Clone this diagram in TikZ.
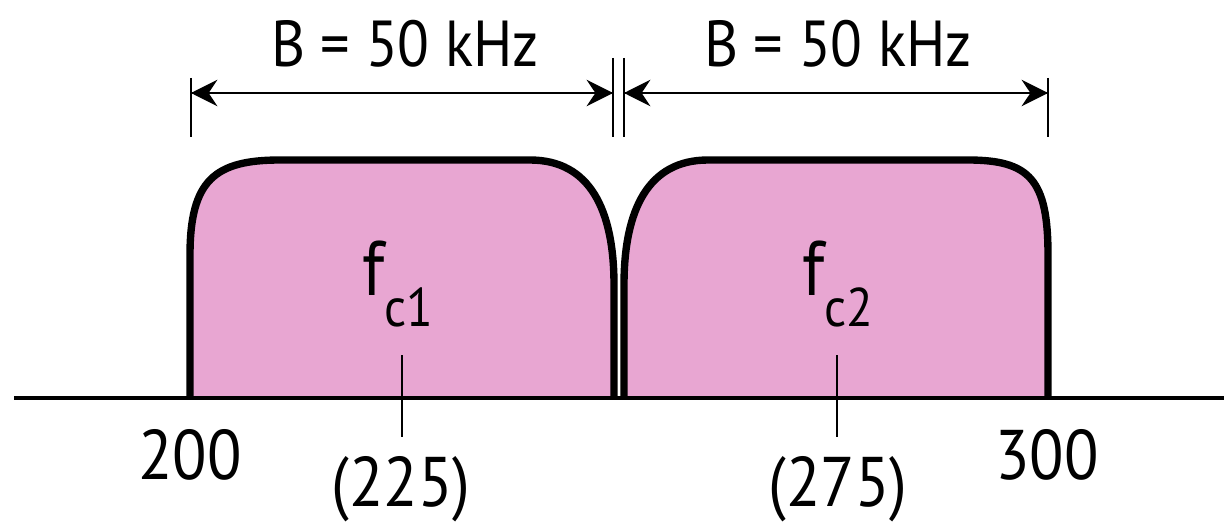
\documentclass[tikz,border=0pt]{standalone}
\usepackage{fontspec}
\setmainfont{PT Sans}[FakeStretch=0.9]
\usetikzlibrary{arrows.meta}
\definecolor{bandpink}{RGB}{232,166,210}
\begin{document}
\begin{tikzpicture}[x=0.02cm, y=-0.02cm, every node/.style={font=\fontsize{37}{41}\selectfont, inner sep=0pt}]
  \useasboundingbox (0,0) rectangle (1224,527);
  \tikzset{band/.style={line width=4.2pt, line join=round}, dim/.style={line width=1.1pt}, dimarrow/.style={line width=1.6pt, -{Stealth[length=15pt,width=15pt,inset=5pt]}}}
  \fill[bandpink] (190,398) -- (190,255) .. controls (190,180) and (215,160) .. (280,160) -- (530,160) .. controls (590,160) and (614,210) .. (614,285) -- (614,398) -- cycle;
  \draw[band] (190,398) -- (190,255) .. controls (190,180) and (215,160) .. (280,160) -- (530,160) .. controls (590,160) and (614,210) .. (614,285) -- (614,398);
  \fill[bandpink] (624,398) -- (624,285) .. controls (624,210) and (648,160) .. (708,160) -- (968,160) .. controls (1030,160) and (1048,180) .. (1048,255) -- (1048,398) -- cycle;
  \draw[band] (624,398) -- (624,285) .. controls (624,210) and (648,160) .. (708,160) -- (968,160) .. controls (1030,160) and (1048,180) .. (1048,255) -- (1048,398);
  \draw[line width=1.8pt] (14,398) -- (1224,398);
  % dimension lines
  \coordinate (e1t) at (191,78); \coordinate (e1b) at (191,137);
  \coordinate (e2t) at (613,58); \coordinate (e2b) at (613,137);
  \coordinate (e3t) at (624,58); \coordinate (e3b) at (624,137);
  \coordinate (e4t) at (1048,78); \coordinate (e4b) at (1048,137);
  \draw[dim] (e1t) -- (e1b); \draw[dim] (e2t) -- (e2b);
  \draw[dim] (e3t) -- (e3b); \draw[dim] (e4t) -- (e4b);
  \coordinate (d1l) at (191,93); \coordinate (d1r) at (613,93);
  \coordinate (d2l) at (624,93); \coordinate (d2r) at (1048,93);
  \draw[dimarrow] (d1r) -- (d1l); \draw[dimarrow] (d1l) -- (d1r);
  \draw[dimarrow] (d2r) -- (d2l); \draw[dimarrow] (d2l) -- (d2r);
  \node (bw1) at (405,44) {B = 50 kHz};
  \node (bw2) at (838,44) {B = 50 kHz};
  % carriers
  \node (fc1) at (398,284) {\fontsize{44}{48}\selectfont f\raisebox{-0.4em}{\fontsize{31}{34}\selectfont c1}};
  \node (fc2) at (838,284) {\fontsize{44}{48}\selectfont f\raisebox{-0.4em}{\fontsize{31}{34}\selectfont c2}};
  \coordinate (t1a) at (402,355); \coordinate (t1b) at (402,437);
  \coordinate (t2a) at (837,355); \coordinate (t2b) at (837,437);
  \draw[dim] (t1a) -- (t1b); \draw[dim] (t2a) -- (t2b);
  \node[font=\fontsize{40}{44}\selectfont] (n200) at (190,455) {200};
  \node[font=\fontsize{40}{44}\selectfont] (n300) at (1047,455) {300};
  \node[font=\fontsize{40}{44}\selectfont] (n225) at (401,489) {(225)};
  \node[font=\fontsize{40}{44}\selectfont] (n275) at (838,489) {(275)};
\end{tikzpicture}
\end{document}
